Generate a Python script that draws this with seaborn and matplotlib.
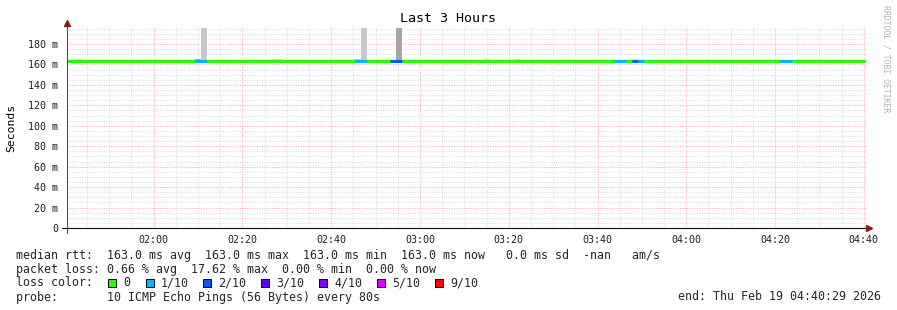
import matplotlib
matplotlib.use("Agg")
import matplotlib.pyplot as plt
from matplotlib.patches import Rectangle
from matplotlib.lines import Line2D
import numpy as np
import pandas as pd
import seaborn as sns

# ---------------- data ----------------
TITLE = "Last 3 Hours"
Y_LABEL = "Seconds"
WATERMARK = "RRDTOOL / TOBI OETIKER"
window_start = "01:40:29"
window_end = "04:40:29"

x_tick_labels = ["02:00", "02:20", "02:40", "03:00", "03:20", "03:40", "04:00", "04:20", "04:40"]
y_tick_values_ms = [0, 20, 40, 60, 80, 100, 120, 140, 160, 180]
y_tick_labels = ["0", "20 m", "40 m", "60 m", "80 m", "100 m", "120 m", "140 m", "160 m", "180 m"]

median_times = ["01:40:29", "04:40:29"]
median_rtt_ms = [163.0, 163.0]

# loss-coloured stretches of the median line (loss in tenths)
loss_seg_start = ["02:09:17", "02:45:17", "02:53:10", "03:43:47", "03:47:50", "03:49:11", "04:21:08"]
loss_seg_end = ["02:11:59", "02:47:59", "02:55:52", "03:46:29", "03:49:11", "03:50:32", "04:23:50"]
loss_seg_level = [1, 1, 2, 1, 2, 1, 1]

# smoke (spread of ping times above the median)
smoke_start = ["01:42:31", "02:09:17", "02:10:38", "02:26:37", "02:45:17", "02:46:38", "02:54:31", "03:14:32", "03:21:17"]
smoke_end = ["01:43:52", "02:10:38", "02:11:59", "02:29:19", "02:46:38", "02:47:59", "02:55:52", "03:15:53", "03:22:38"]
smoke_top_ms = [165.3, 165.3, 195.7, 165.3, 165.3, 195.7, 195.7, 165.3, 165.3]
smoke_shade = ["#d2d2d2", "#a8a8a8", "#c8c8c8", "#d2d2d2", "#c0c0c0", "#c8c8c8", "#a6a6a6", "#d2d2d2", "#d2d2d2"]

loss_legend_labels = ["0", "1/10", "2/10", "3/10", "4/10", "5/10", "9/10"]
loss_legend_colors = ["#26ff00", "#00b8ff", "#0059ff", "#5e00ff", "#7e00ff", "#dd00ff", "#ff0000"]
loss_level_colors = {0: "#26ff00", 1: "#00b8ff", 2: "#0059ff", 3: "#5e00ff", 4: "#7e00ff", 5: "#dd00ff", 9: "#ff0000"}

stats_rtt = "median rtt:  163.0 ms avg  163.0 ms max  163.0 ms min  163.0 ms now   0.0 ms sd  -nan   am/s"
stats_loss = "packet loss: 0.66 % avg  17.62 % max  0.00 % min  0.00 % now"
loss_color_title = "loss color:"
probe_text = "probe:       10 ICMP Echo Pings (56 Bytes) every 80s"
end_text = "end: Thu Feb 19 04:40:29 2026"


def tmin(s):
    h, m, sec = (int(v) for v in s.split(":"))
    return h * 60 + m + sec / 60.0


# ---------------- style ----------------
sns.set_theme(style="white")
plt.rcParams["font.family"] = ["DejaVu Sans Mono", "DejaVu Sans"]

W, H = 897, 310
fig = plt.figure(figsize=(W / 100, H / 100), dpi=100)
fig.patch.set_facecolor("white")


def fx(x):
    return x / W


def fy(y):
    return 1 - y / H


AX_L, AX_R, AX_B, AX_T = 67, 866, 228, 26.6
ax = fig.add_axes([fx(AX_L), fy(AX_B), (AX_R - AX_L) / W, (AX_B - AX_T) / H])
ax.set_facecolor("white")

x0, x1 = tmin(window_start), tmin(window_end)
ax.set_xlim(x0, x1)
ax.set_ylim(0, 197)

# grid
xt = [tmin(l + ":00") for l in x_tick_labels]
ax.set_xticks(xt)
ax.set_xticklabels(x_tick_labels)
ax.set_xticks(np.arange(105, x1, 5), minor=True)
ax.set_yticks(y_tick_values_ms)
ax.set_yticklabels(y_tick_labels)
ax.set_yticks(np.arange(5, 197, 5), minor=True)
ax.grid(which="minor", color="#d9d9d9", linestyle=(0, (1, 1.5)), linewidth=0.7)
ax.grid(which="major", color="#ffa8a8", linestyle=(0, (1, 1.5)), linewidth=0.7)
ax.set_axisbelow(True)
ax.tick_params(which="both", length=0)
ax.tick_params(axis="x", labelsize=7.2, pad=5, labelcolor="#202020")
ax.tick_params(axis="y", labelsize=7.2, pad=6.5, labelcolor="#202020")
for sp in ax.spines.values():
    sp.set_visible(False)

# smoke
s0 = np.array([tmin(s) for s in smoke_start])
s1 = np.array([tmin(s) for s in smoke_end])
ax.bar(s0, np.array(smoke_top_ms) - median_rtt_ms[0], width=s1 - s0, bottom=median_rtt_ms[0],
       align="edge", color=smoke_shade, linewidth=0, zorder=2)

# median line
med_df = pd.DataFrame({"t": [tmin(t) for t in median_times], "rtt": median_rtt_ms})
sns.lineplot(data=med_df, x="t", y="rtt", ax=ax, color=loss_level_colors[0], linewidth=2.2,
             zorder=3, solid_capstyle="butt")
ax.hlines([median_rtt_ms[0]] * len(loss_seg_start),
          [tmin(s) for s in loss_seg_start], [tmin(s) for s in loss_seg_end],
          colors=[loss_level_colors[l] for l in loss_seg_level], linewidth=2.2, zorder=4,
          capstyle="butt")
ax.set_xlabel("")
ax.set_ylabel("")

# axes lines and arrows
arrow_c = "#8b1a1a"
fig.add_artist(Line2D([fx(AX_L), fx(AX_L)], [fy(233), fy(24)], color="#505050", lw=0.8,
                      transform=fig.transFigure))
fig.add_artist(Line2D([fx(62), fx(868)], [fy(AX_B), fy(AX_B)], color="#101010", lw=0.8,
                      transform=fig.transFigure))
fig.add_artist(Line2D([fx(AX_L)], [fy(23)], marker="^", markersize=4.5, color=arrow_c,
                      linestyle="none", transform=fig.transFigure))
fig.add_artist(Line2D([fx(869)], [fy(AX_B)], marker=">", markersize=4.5, color=arrow_c,
                      linestyle="none", transform=fig.transFigure))

# texts
fig.text(fx(448), fy(19), TITLE, ha="center", va="center", fontsize=9.6, color="black")
fig.text(fx(11), fy(128), Y_LABEL, ha="center", va="center", rotation=90, fontsize=8.2,
         color="black")
fig.text(fx(886), fy(5), WATERMARK, ha="center", va="top", rotation=270, fontsize=5.9,
         color="#b4b4b4")

TS = 8.4
fig.text(fx(16), fy(258.5), stats_rtt, ha="left", va="baseline", fontsize=TS)
fig.text(fx(16), fy(272.5), stats_loss, ha="left", va="baseline", fontsize=TS)
fig.text(fx(16), fy(286.5), loss_color_title, ha="left", va="baseline", fontsize=TS)
sq_x = [108, 146, 203, 261, 319, 377, 435]
for x, lab, col in zip(sq_x, loss_legend_labels, loss_legend_colors):
    fig.add_artist(Rectangle((fx(x), fy(286.5)), 8 / W, 8 / H, facecolor=col,
                             edgecolor="black", linewidth=0.7, transform=fig.transFigure))
    fig.text(fx(x + 15), fy(286.5), lab, ha="left", va="baseline", fontsize=TS)
fig.text(fx(16), fy(300.5), probe_text, ha="left", va="baseline", fontsize=TS)
fig.text(fx(881), fy(300.5), end_text, ha="right", va="baseline", fontsize=TS)

fig.savefig("out.png", dpi=100, facecolor="white")
